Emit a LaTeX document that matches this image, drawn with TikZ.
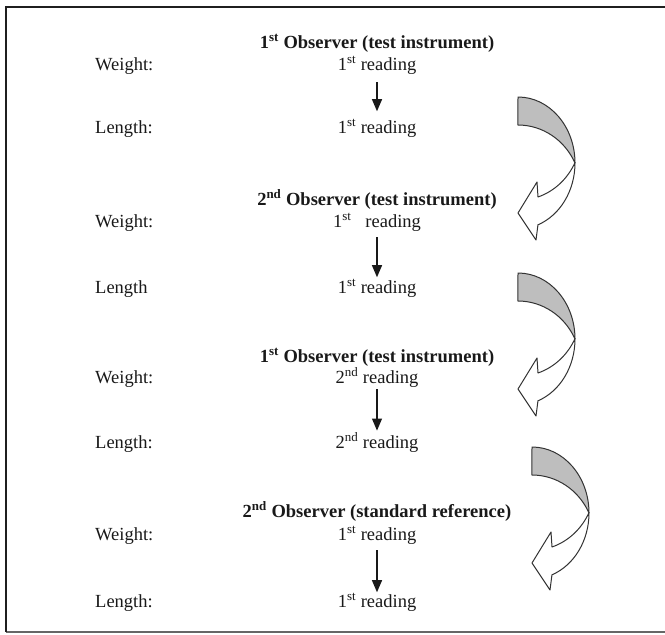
\documentclass[tikz,border=0pt]{standalone}
\usepackage{fontspec}
\setmainfont{Liberation Serif}
\usetikzlibrary{arrows.meta}
\newcommand{\CurvedBand}[2]{%
  \begin{scope}[shift={(#1,-#2)}]
    \path[band, fill=bandgray] (0,0)
      arc[start angle=90, end angle=0, x radius=57pt, y radius=66pt]
      arc[start angle=25.1, end angle=90, x radius=63pt, y radius=66pt]
      -- cycle;
    \path[band, fill=white] (57,-66)
      arc[start angle=0, end angle=-69.5, x radius=57pt, y radius=66pt]
      -- (18,-143) -- (0,-116) -- (19,-85) -- (20,-100)
      arc[start angle=-71.5, end angle=-25.1, x radius=63pt, y radius=66pt]
      -- cycle;
  \end{scope}}
\definecolor{bandgray}{RGB}{190,190,190}
\definecolor{ink}{RGB}{25,25,25}
\begin{document}
\begin{tikzpicture}[x=1pt, y=1pt,
  every node/.style={text=ink, font=\fontsize{18.5}{22}\selectfont},
  lab/.style={anchor=base west, inner sep=0pt},
  cen/.style={anchor=base, inner sep=0pt},
  hdr/.style={anchor=base, inner sep=0pt, font=\fontsize{18.5}{22}\selectfont\bfseries},
  down/.style={draw=ink, -{Triangle[length=12pt,width=10pt]}, line width=1.1pt},
  band/.style={draw=black!80, line width=1pt, line join=round}]
\useasboundingbox (0,0) rectangle (665,-635);
% frame
\coordinate (ftl) at (6,-7);
\coordinate (ftr) at (665,-7);
\coordinate (fbl) at (6,-632);
\coordinate (fbr) at (665,-632);
\draw[black!60, line width=1.2pt] (fbl) -- (fbr);
\draw[black!88, line width=2.6pt] (ftr) -- (ftl) -- (fbl);

% block 1
\node[hdr] (h1) at (377,-48) {1\textsuperscript{st} Observer (test instrument)};
\node[lab] (wl1) at (95,-70) {Weight:};
\node[cen] (w1) at (377,-70) {1\textsuperscript{st} reading};
\node[lab] (ll1) at (95,-133) {Length:};
\node[cen] (l1) at (377,-133) {1\textsuperscript{st} reading};
\draw[down, shorten <=8pt, shorten >=8pt] (w1.south) -- (l1.north);

% block 2
\node[hdr] (h2) at (377,-205) {2\textsuperscript{nd} Observer (test instrument)};
\node[lab] (wl2) at (95,-227) {Weight:};
\node[cen] (w2) at (377,-227) {1\textsuperscript{st}\hspace{14pt}reading};
\node[lab] (ll2) at (95,-293) {Length};
\node[cen] (l2) at (377,-293) {1\textsuperscript{st} reading};
\draw[down, shorten <=6pt, shorten >=2pt] (w2.south) -- (l2.north);

% block 3
\node[hdr] (h3) at (377,-362) {1\textsuperscript{st} Observer (test instrument)};
\node[lab] (wl3) at (95,-383) {Weight:};
\node[cen] (w3) at (377,-383) {2\textsuperscript{nd} reading};
\node[lab] (ll3) at (95,-448) {Length:};
\node[cen] (l3) at (377,-448) {2\textsuperscript{nd} reading};
\draw[down, shorten <=2pt, shorten >=2pt] (w3.south) -- (l3.north);

% block 4
\node[hdr] (h4) at (377,-517) {2\textsuperscript{nd} Observer (standard reference)};
\node[lab] (wl4) at (95,-540) {Weight:};
\node[cen] (w4) at (377,-540) {1\textsuperscript{st} reading};
\node[lab] (ll4) at (95,-607) {Length:};
\node[cen] (l4) at (377,-607) {1\textsuperscript{st} reading};
\draw[down, shorten <=6pt, shorten >=1pt] (w4.south) -- (l4.north);

% curved arrows
\CurvedBand{518}{97}
\CurvedBand{518}{273}
\CurvedBand{532}{447}
\end{tikzpicture}
\end{document}
